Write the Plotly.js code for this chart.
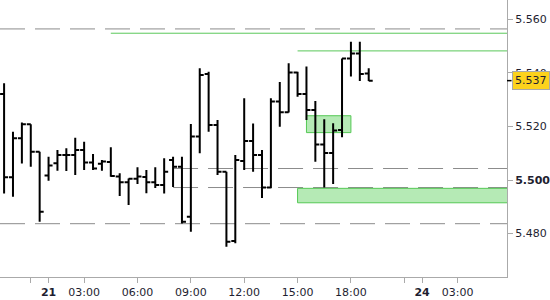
<!DOCTYPE html>
<html>
<head>
<meta charset="utf-8">
<script src="https://cdn.plot.ly/plotly-3.0.1.min.js"></script>
<style>html,body{margin:0;padding:0;background:#fff;}#chart{width:550px;height:300px;}</style>
</head>
<body>
<div id="chart"></div>
<script>
// 30-minute slots (session time, gaps removed); 0 = day 21 00:00
const slots = [-5,-4,-3,-2,-1,0,1,2,3,4,5,6,7,8,9,10,11,12,13,14,15,16,17,18,19,20,21,22,23,24,25,26,27,28,29,30,31,32,33,34,35,36];
const openP  = [5.5321,5.5010,5.5156,5.5208,5.5106,5.5017,5.5063,5.5093,5.5093,5.5112,5.5065,5.5061,5.5067,5.5013,5.4992,5.5005,5.5011,5.4992,5.4981,5.5075,5.5050,5.4863,5.5162,5.5396,5.5205,5.5031,5.4772,5.5071,5.5146,5.5093,5.4972,5.5293,5.5253,5.5401,5.5321,5.5261,5.5133,5.5101,5.5187,5.5454,5.5472,5.5398];
const highP  = [5.5361,5.5180,5.5215,5.5208,5.5106,5.5087,5.5112,5.5119,5.5158,5.5143,5.5097,5.5075,5.5122,5.5025,5.5006,5.5048,5.5037,5.5048,5.5081,5.5087,5.5087,5.5209,5.5417,5.5404,5.5224,5.5031,5.5093,5.5305,5.5211,5.5112,5.5305,5.5366,5.5436,5.5404,5.5424,5.5295,5.5227,5.5212,5.5454,5.5516,5.5516,5.5417];
const lowP   = [5.4950,5.4938,5.5062,5.5050,5.4844,5.4997,5.5035,5.5034,5.5019,5.5037,5.5037,5.5035,5.5012,5.4940,5.4907,5.4985,5.4951,5.4970,5.4950,5.4974,5.4838,5.4807,5.5100,5.5180,5.5019,5.4751,5.4764,5.5037,5.5031,5.4933,5.4969,5.5199,5.5252,5.5311,5.5224,5.5068,5.4972,5.4985,5.5160,5.5386,5.5370,5.5370];
const closeP = [5.5010,5.5156,5.5208,5.5106,5.4882,5.5054,5.5093,5.5093,5.5112,5.5065,5.5043,5.5069,5.5015,5.4992,5.5005,5.5013,5.4992,5.4981,5.5031,5.5050,5.4844,5.5162,5.5392,5.5205,5.5031,5.4770,5.5075,5.5146,5.5093,5.4972,5.5293,5.5253,5.5401,5.5321,5.5261,5.5133,5.5101,5.5185,5.5454,5.5472,5.5396,5.5371];

// x axis ticks
const xTickVals = [-2,0,4,10,16,22,28,34,40,42,46];
const xTickText = ['', '<b>21</b>', '03:00', '06:00', '09:00', '12:00', '15:00', '18:00', '', '<b>24</b>', '03:00'];
// y axis ticks
const yTickVals = [5.48,5.50,5.52,5.54,5.56];
const yTickText = ['5.480','<b>5.500</b>','5.520','5.540','5.560'];

// horizontal levels
const dashedLevels = [5.5564, 5.5043, 5.4972, 5.4837];
const dashedStart  = [null, 14, 14, null];
const greenLevels  = [5.5548, 5.5482];
const greenStart   = [7, 28];
// zones [startSlot, endSlot(null=right edge), low, high]
const zoneStart = [29, 28];
const zoneEnd   = [34, null];
const zoneLow   = [5.5177, 5.4915];
const zoneHigh  = [5.5240, 5.4969];

const xRange = [-5.46, 51.55];
const yRange = [5.4638, 5.5672];

const shapes = [];
dashedLevels.forEach((v, i) => {
  shapes.push({type:'line', xref:'x', yref:'y', layer:'below',
    x0: dashedStart[i] === null ? xRange[0] : dashedStart[i], x1: xRange[1], y0: v, y1: v,
    line:{color:'#8c8c8c', width:1, dash:'25px,10px'}});
});
greenLevels.forEach((v, i) => {
  shapes.push({type:'line', xref:'x', yref:'y', layer:'below',
    x0: greenStart[i], x1: xRange[1], y0: v, y1: v,
    line:{color:'#5ac85a', width:1}});
});
zoneLow.forEach((v, i) => {
  shapes.push({type:'rect', xref:'x', yref:'y', layer:'below',
    x0: zoneStart[i], x1: zoneEnd[i] === null ? xRange[1] + 1 : zoneEnd[i], y0: v, y1: zoneHigh[i],
    fillcolor:'#b5eab5', line:{color:'#55c855', width:1}});
});
const lastClose = closeP[closeP.length - 1];
shapes.push({type:'line', xref:'paper', yref:'y', x0:1, x1:1.009, y0:lastClose, y1:lastClose,
  line:{color:'#000', width:1.5}});

const trace = {
  type:'ohlc', x: slots, open: openP, high: highP, low: lowP, close: closeP,
  increasing:{line:{color:'#000', width:2}},
  decreasing:{line:{color:'#000', width:2}},
  tickwidth:0.45, hoverinfo:'skip'
};

const tickFont = {family:'DejaVu Sans, Verdana, sans-serif', size:11, color:'#1e1e30'};
const layout = {
  width:550, height:300,
  margin:{l:0, r:43, t:0, b:23, pad:0},
  paper_bgcolor:'#fff', plot_bgcolor:'#fff',
  showlegend:false,
  xaxis:{type:'linear', range:xRange, autorange:false, fixedrange:true,
    rangeslider:{visible:false},
    tickmode:'array', tickvals:xTickVals, ticktext:xTickText,
    ticks:'outside', ticklen:5, tickcolor:'#aaaaaa', tickwidth:1,
    showgrid:false, zeroline:false, showline:true, linecolor:'#aaaaaa', linewidth:1,
    tickfont:tickFont},
  yaxis:{side:'right', range:yRange, autorange:false, fixedrange:true,
    tickmode:'array', tickvals:yTickVals, ticktext:yTickText,
    ticks:'outside', ticklen:5, tickcolor:'#aaaaaa', tickwidth:1,
    showgrid:false, zeroline:false, showline:true, linecolor:'#aaaaaa', linewidth:1,
    tickfont:tickFont},
  shapes: shapes,
  annotations:[{xref:'paper', yref:'y', x:1, y:lastClose, xanchor:'left', yanchor:'middle',
    xshift:5, text:lastClose.toFixed(3), showarrow:false,
    bgcolor:'#fcd21c', bordercolor:'#a8a8a8', borderwidth:1, borderpad:2,
    font:{family:'DejaVu Sans, Verdana, sans-serif', size:11, color:'#1e1e30'}}]
};

Plotly.newPlot('chart', [trace], layout, {displayModeBar:false, staticPlot:true});
</script>
</body>
</html>
